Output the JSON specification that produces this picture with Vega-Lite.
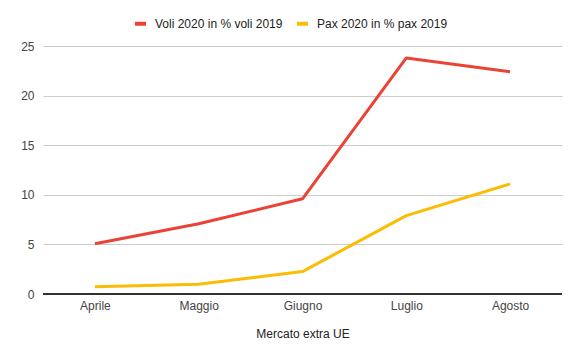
{
  "$schema": "https://vega.github.io/schema/vega-lite/v6.json",
  "autosize": "none",
  "width": 519,
  "height": 248,
  "padding": {"left": 43, "top": 46, "right": 18, "bottom": 65},
  "config": {
    "font": "Liberation Sans",
    "view": {"stroke": null},
    "axis": {"labelFont": "Liberation Sans", "titleFont": "Liberation Sans", "labelColor": "#444", "titleColor": "#222"}
  },
  "data": {
    "values": [
      {"mese": "Aprile", "serie": "Voli 2020 in % voli 2019", "valore": 5.07},
      {"mese": "Maggio", "serie": "Voli 2020 in % voli 2019", "valore": 7.08},
      {"mese": "Giugno", "serie": "Voli 2020 in % voli 2019", "valore": 9.6},
      {"mese": "Luglio", "serie": "Voli 2020 in % voli 2019", "valore": 23.8},
      {"mese": "Agosto", "serie": "Voli 2020 in % voli 2019", "valore": 22.4},
      {"mese": "Aprile", "serie": "Pax 2020 in % pax 2019", "valore": 0.74},
      {"mese": "Maggio", "serie": "Pax 2020 in % pax 2019", "valore": 0.98},
      {"mese": "Giugno", "serie": "Pax 2020 in % pax 2019", "valore": 2.26},
      {"mese": "Luglio", "serie": "Pax 2020 in % pax 2019", "valore": 7.9},
      {"mese": "Agosto", "serie": "Pax 2020 in % pax 2019", "valore": 11.1}
    ]
  },
  "layer": [
    {
      "mark": {"type": "line", "strokeWidth": 3, "strokeJoin": "round"},
      "encoding": {
        "x": {
          "field": "mese", "type": "ordinal",
          "sort": ["Aprile", "Maggio", "Giugno", "Luglio", "Agosto"],
          "scale": {"type": "point", "padding": 0.5},
          "axis": {"title": "Mercato extra UE", "labelAngle": 0, "ticks": false, "domain": false, "grid": false, "labelFontSize": 12, "labelPadding": 6, "titleFontSize": 12, "titleFontWeight": "normal", "titlePadding": 17}
        },
        "y": {
          "field": "valore", "type": "quantitative",
          "scale": {"domain": [0, 25], "nice": false},
          "axis": {"title": null, "values": [0, 5, 10, 15, 20, 25], "ticks": false, "domain": false, "grid": true, "gridColor": "#cccccc", "gridWidth": 1, "labelFontSize": 12, "labelPadding": 9}
        },
        "color": {
          "field": "serie", "type": "nominal",
          "sort": ["Voli 2020 in % voli 2019", "Pax 2020 in % pax 2019"],
          "scale": {"domain": ["Voli 2020 in % voli 2019", "Pax 2020 in % pax 2019"], "range": ["#ea4335", "#fbbc04"]},
          "legend": {"title": null, "orient": "none", "legendX": 90, "legendY": -30, "direction": "horizontal", "labelFontSize": 12, "labelColor": "#222", "symbolType": "stroke", "symbolSize": 120, "symbolStrokeWidth": 4, "labelOffset": 7, "columnPadding": 6}
        }
      }
    },
    {
      "mark": {"type": "rule", "color": "#333", "strokeWidth": 1.5},
      "encoding": {"y": {"datum": 0, "type": "quantitative"}}
    }
  ]
}
